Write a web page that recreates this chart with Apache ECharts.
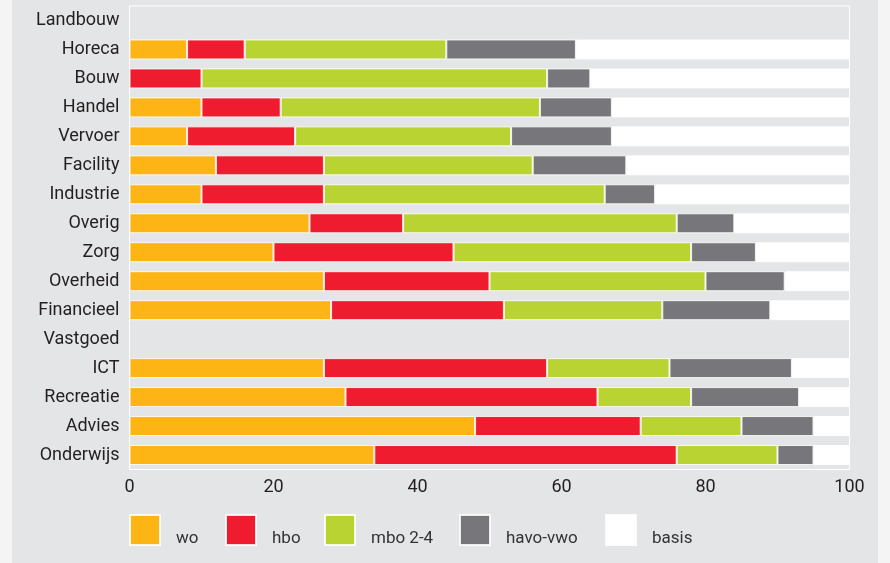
<!DOCTYPE html>
<html>
<head>
<meta charset="utf-8">
<script src="https://cdn.jsdelivr.net/npm/echarts@6/dist/echarts.min.js"></script>
<style>
html,body{margin:0;padding:0;background:#f4f4f5;}
#c{width:890px;height:563px;}
</style>
</head>
<body>
<div id="c"></div>
<script>
var categories = ['Landbouw','Horeca','Bouw','Handel','Vervoer','Facility','Industrie','Overig','Zorg','Overheid','Financieel','Vastgoed','ICT','Recreatie','Advies','Onderwijs'];
var wo    = ['-', 8, '-', 10,  8, 12, 10, 25, 20, 27, 28, '-', 27, 30, 48, 34];
var hbo   = ['-', 8, 10, 11, 15, 15, 17, 13, 25, 23, 24, '-', 31, 35, 23, 42];
var mbo   = ['-', 28, 48, 36, 30, 29, 39, 38, 33, 30, 22, '-', 17, 13, 14, 14];
var havo  = ['-', 18, 6, 10, 14, 13, 7, 8, 9, 11, 15, '-', 17, 15, 10, 5];
var basis = ['-', 38, 36, 33, 33, 31, 27, 16, 13, 9, 11, '-', 8, 7, 5, 5];
var xTicks = [0, 20, 40, 60, 80, 100];

var seriesNames = ['wo','hbo','mbo 2-4','havo-vwo','basis'];
var seriesData = [wo, hbo, mbo, havo, basis];
var colors = ['#fdb515','#ee1c2e','#b9d432','#77777b','#ffffff'];
var legendLeft = [129, 225, 324, 459, 605];
var FONT = 'Roboto, "Noto Sans", sans-serif';
var TXT = '#231f20';

var chart = echarts.init(document.getElementById('c'), null, {renderer:'canvas'});
var series = seriesNames.map(function(n, i){
  return {
    name: n, type: 'bar', stack: 'all', barWidth: 20,
    data: seriesData[i],
    itemStyle: {color: colors[i], borderColor: 'rgba(255,255,255,0.85)', borderWidth: 1},
    emphasis: {disabled: true}
  };
});
var legends = seriesNames.map(function(n, i){
  return {
    data: [n], left: legendLeft[i], top: 514, orient: 'horizontal',
    icon: 'rect', itemWidth: 30, itemHeight: 30, padding: 0,
    selectedMode: false,
    formatter: '{a|{name}}',
    textStyle: {fontFamily: FONT, fontSize: 17, color: '#333',
      rich: {a: {fontFamily: FONT, fontSize: 17, color: '#333', padding: [17, 0, 0, 11]}}}
  };
});
chart.setOption({
  animation: false,
  backgroundColor: 'transparent',
  graphic: [{type:'rect', z: -10, shape:{x:12, y:0, width:866, height:563}, style:{fill:'#e4e5e7'}}],
  grid: {left: 129.5, right: 40.5, top: 6, bottom: 93.5, show: true, borderColor: '#ffffff', borderWidth: 1, backgroundColor: 'transparent'},
  legend: legends,
  xAxis: {
    type: 'value', min: 0, max: 100, interval: 20,
    axisLine: {show: false}, axisTick: {show: false}, splitLine: {show: false},
    axisLabel: {fontFamily: FONT, fontSize: 18, color: TXT, margin: 9,
      formatter: function(v){ return xTicks.indexOf(v) >= 0 ? String(v) : ''; }}
  },
  yAxis: {
    type: 'category', data: categories, inverse: true,
    axisLine: {show: true, lineStyle: {color: '#ffffff', width: 1}},
    axisTick: {show: false},
    axisLabel: {fontFamily: FONT, fontSize: 18, color: TXT, margin: 10, padding: [5, 0, 0, 0]}
  },
  series: series
});
</script>
</body>
</html>
